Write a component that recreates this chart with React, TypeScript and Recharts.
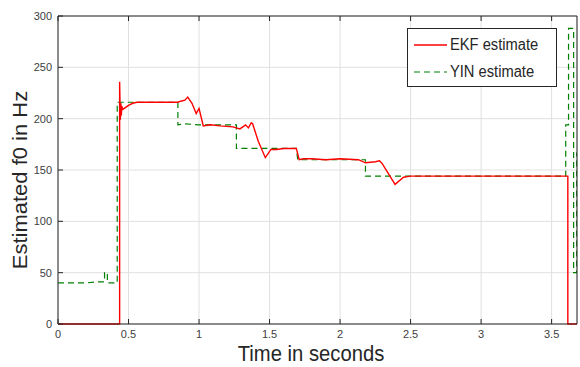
import { LineChart, Line, XAxis, YAxis, CartesianGrid } from "recharts";

const xTicks = [0, 0.5, 1, 1.5, 2, 2.5, 3, 3.5];
const yTicks = [0, 50, 100, 150, 200, 250, 300];

// EKF estimate (red)
const ekfT = [
  0, 0.437, 0.437, 0.442, 0.446, 0.449, 0.452, 0.46, 0.48, 0.5, 0.53, 0.56, 0.6, 0.7, 0.8, 0.85,
  0.87, 0.9, 0.92, 0.95, 0.98, 1.0, 1.03, 1.08, 1.15, 1.24, 1.29, 1.33, 1.35, 1.37, 1.38, 1.42,
  1.47, 1.51, 1.55, 1.6, 1.69, 1.71, 1.74, 1.8, 1.9, 2.0, 2.13, 2.18, 2.25, 2.28, 2.3, 2.39, 2.45,
  2.5, 2.7, 3.0, 3.3, 3.615, 3.615, 3.68,
];
const ekfF = [
  0, 0, 236, 199, 215, 203, 212, 209, 211, 213, 215, 216, 216, 216, 216, 216,
  217, 218, 221, 215, 205, 210, 193, 194, 193, 192, 190, 194, 191, 196, 195, 178,
  162, 170, 170, 171, 171, 160, 161, 161, 160, 161, 160, 157, 158, 159, 156, 136, 143,
  144, 144, 144, 144, 144, 0, 0,
];

// YIN estimate (green dashed)
const yinT = [
  0, 0.1, 0.2, 0.27, 0.33, 0.33, 0.35, 0.35, 0.42, 0.42, 0.6, 0.85, 0.85, 0.9, 1.0, 1.265,
  1.265, 1.4, 1.69, 1.7, 1.9, 2.18, 2.18, 2.5, 3.0, 3.6, 3.6, 3.62, 3.62, 3.656, 3.656, 3.678,
  3.678,
];
const yinF = [
  40, 40, 40, 41, 41, 50, 50, 40, 40, 216, 216, 216, 194, 195, 194, 194,
  171, 171, 171, 160, 160, 160, 144, 144, 144, 144, 194, 194, 288, 288, 50, 50,
  167,
];

const ekfData = ekfT.map((t, i) => ({ t, f: ekfF[i] }));
const yinData = yinT.map((t, i) => ({ t, f: yinF[i] }));

const font = "'Liberation Sans', Arial, sans-serif";
const axisColor = "#262626";
const tickStyle = { fill: "#404040", fontSize: 11, fontFamily: font };
const blank = () => "";

export default function App() {
  return (
    <div style={{ position: "absolute", left: 0, top: 0, width: 580, height: 367, background: "#fff" }}>
      <LineChart width={580} height={367} margin={{ top: 15, right: 2, left: 0, bottom: 0 }}>
        <CartesianGrid stroke="#e0e0e0" strokeWidth={1} />
        <XAxis
          dataKey="t"
          type="number"
          domain={[0, 3.68]}
          ticks={xTicks}
          allowDataOverflow
          height={43}
          stroke={axisColor}
          tickSize={-5}
          tickMargin={11}
          tick={tickStyle}
          label={{
            content: () => (
              <text
                transform="translate(311 361) scale(0.92 1)"
                textAnchor="middle"
                fontSize={22}
                fontFamily={font}
                fill="#262626"
              >
                Time in seconds
              </text>
            ),
          }}
        />
        <XAxis
          xAxisId="top"
          orientation="top"
          dataKey="t"
          type="number"
          domain={[0, 3.68]}
          ticks={xTicks}
          allowDataOverflow
          height={1}
          stroke={axisColor}
          tickSize={-5}
          tickFormatter={blank}
        />
        <YAxis
          type="number"
          domain={[0, 300]}
          ticks={yTicks}
          width={58}
          stroke={axisColor}
          tickSize={-5}
          tickMargin={11}
          tick={tickStyle}
          label={{
            content: () => (
              <text
                transform="translate(26.5 180) scale(0.9 1) rotate(-90)"
                textAnchor="middle"
                fontSize={22}
                fontFamily={font}
                fill="#262626"
              >
                Estimated f0 in Hz
              </text>
            ),
          }}
        />
        <YAxis
          yAxisId="right"
          orientation="right"
          type="number"
          domain={[0, 300]}
          ticks={yTicks}
          width={1}
          stroke={axisColor}
          tickSize={-5}
          tickFormatter={blank}
        />
        <Line
          data={yinData}
          dataKey="f"
          type="linear"
          stroke="#008000"
          strokeWidth={1.2}
          strokeDasharray="6 4"
          dot={false}
          isAnimationActive={false}
        />
        <Line
          data={ekfData}
          dataKey="f"
          type="linear"
          stroke="#ff0000"
          strokeWidth={1.4}
          dot={false}
          isAnimationActive={false}
        />
      </LineChart>
      <div
        style={{
          position: "absolute",
          left: 407,
          top: 28,
          width: 148,
          height: 57,
          border: `1px solid ${axisColor}`,
          background: "#fff",
          fontFamily: font,
          fontSize: 15,
          color: "#262626",
        }}
      >
        <svg width={148} height={57} style={{ position: "absolute", left: 0, top: 0 }}>
          <line x1={6} x2={39} y1={16} y2={16} stroke="#ff0000" strokeWidth={1.4} />
          <line x1={6} x2={39} y1={43} y2={43} stroke="#008000" strokeWidth={1.2} strokeDasharray="6 4" />
          <text x={42} y={21.5} fontSize={16} fontFamily={font} fill="#262626" transform="scale(0.92 1) translate(3.6 0)">
            EKF estimate
          </text>
          <text x={42} y={48.5} fontSize={16} fontFamily={font} fill="#262626" transform="scale(0.92 1) translate(3.6 0)">
            YIN estimate
          </text>
        </svg>
      </div>
    </div>
  );
}
